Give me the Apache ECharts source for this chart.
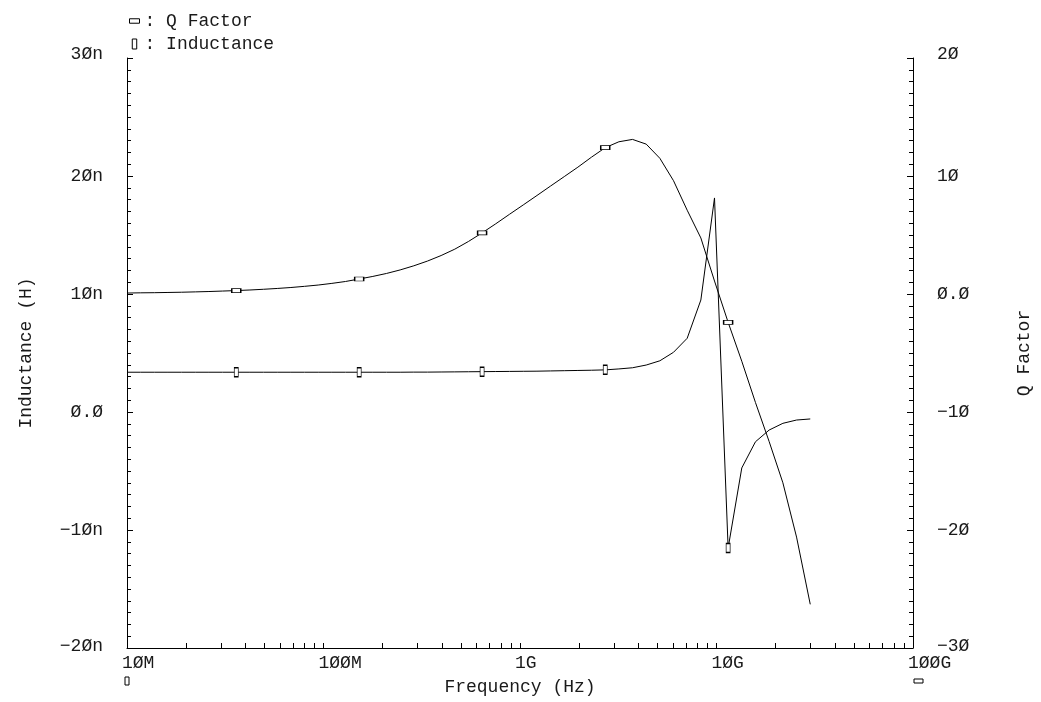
<!DOCTYPE html>
<html>
<head>
<meta charset="utf-8">
<script src="https://cdn.jsdelivr.net/npm/echarts@6/dist/echarts.min.js"></script>
<style>
  html, body { margin: 0; padding: 0; background: #fff; }
  #chart { width: 1041px; height: 702px; }
</style>
</head>
<body>
<div id="chart"></div>
<script>
// Sweep frequencies (Hz), log spaced from 10 MHz to 30 GHz
const frequencyHz = [
  1.000e7, 1.174e7, 1.377e7, 1.616e7, 1.897e7, 2.226e7, 2.612e7, 3.066e7, 3.598e7, 4.222e7,
  4.955e7, 5.815e7, 6.824e7, 8.008e7, 9.398e7, 1.103e8, 1.294e8, 1.519e8, 1.783e8, 2.092e8,
  2.455e8, 2.881e8, 3.381e8, 3.968e8, 4.657e8, 5.465e8, 6.414e8, 7.527e8, 8.834e8, 1.039e9,
  1.220e9, 1.431e9, 1.680e9, 1.971e9, 2.313e9, 2.715e9, 3.186e9, 3.739e9, 4.388e9, 5.150e9,
  6.044e9, 7.093e9, 8.324e9, 9.769e9, 1.146e10, 1.345e10, 1.579e10, 1.853e10, 2.177e10, 2.555e10,
  3.000e10
];

// Quality factor (right axis)
const qFactor = [
  0.08, 0.10, 0.11, 0.13, 0.15, 0.18, 0.21, 0.25, 0.29, 0.34,
  0.40, 0.47, 0.55, 0.65, 0.76, 0.90, 1.06, 1.27, 1.49, 1.74,
  2.04, 2.39, 2.79, 3.26, 3.80, 4.45, 5.18, 5.95, 6.75, 7.55,
  8.35, 9.15, 9.95, 10.75, 11.6, 12.4, 12.9, 13.1, 12.7, 11.5,
  9.6, 7.1, 4.75, 1.1, -2.4, -5.7, -9.2, -12.5, -16.0, -20.6,
  -26.3
];

// Inductance in nH (left axis)
const inductanceNH = [
  3.37, 3.37, 3.37, 3.37, 3.37, 3.37, 3.37, 3.37, 3.37, 3.37,
  3.37, 3.37, 3.37, 3.37, 3.37, 3.37, 3.37, 3.37, 3.37, 3.37,
  3.37, 3.38, 3.38, 3.39, 3.40, 3.41, 3.42, 3.43, 3.44, 3.45,
  3.46, 3.48, 3.50, 3.52, 3.54, 3.57, 3.65, 3.75, 3.98, 4.34,
  5.06, 6.25, 9.49, 18.14, -11.53, -4.74, -2.52, -1.53, -0.96, -0.68,
  -0.59
];

// Sweep points that carry a curve symbol
const markerIndex = [8, 17, 26, 35, 44];

// Frequency axis ticks (decades plus 2..9 sub-ticks) and decade labels
const freqTickValues = [
  1e7, 2e7, 3e7, 4e7, 5e7, 6e7, 7e7, 8e7, 9e7,
  1e8, 2e8, 3e8, 4e8, 5e8, 6e8, 7e8, 8e8, 9e8,
  1e9, 2e9, 3e9, 4e9, 5e9, 6e9, 7e9, 8e9, 9e9,
  1e10, 2e10, 3e10, 4e10, 5e10, 6e10, 7e10, 8e10, 9e10,
  1e11
];
const freqLabelValues = [1e7, 1e8, 1e9, 1e10, 1e11];
const freqLabelText = ['1ØM', '1ØØM', '1G', '1ØG', '1ØØG'];

const inductanceTicks = [-20, -10, 0, 10, 20, 30];
const inductanceTickText = ['−2Øn', '−1Øn', 'Ø.Ø', '1Øn', '2Øn', '3Øn'];
const qTicks = [-30, -20, -10, 0, 10, 20];
const qTickText = ['−3Ø', '−2Ø', '−1Ø', 'Ø.Ø', '1Ø', '2Ø'];

const FONT = 'Liberation Mono';
const INK = '#1a1a1a';
const GRID = { left: 127, right: 125, top: 58, bottom: 54 };
const W = 1041, H = 702;

// End labels of the value axes sit slightly above their ticks
function pickLabel(v, values, texts) {
  for (let i = 0; i < values.length; i++) {
    if (Math.abs(v - values[i]) < 1e-6) {
      if (i === values.length - 1) return '{hi|' + texts[i] + '}';
      if (i === 0) return '{lo|' + texts[i] + '}';
      return texts[i];
    }
  }
  return '';
}
function pickLogLabel(v, values, texts) {
  for (let i = 0; i < values.length; i++) {
    if (Math.abs(Math.log10(v) - Math.log10(values[i])) < 1e-6) return texts[i];
  }
  return '';
}

const textStyle = { fontFamily: FONT, fontSize: 18, color: INK };
const endRich = {
  hi: { fontFamily: FONT, fontSize: 18, color: INK, padding: [0, 0, 8, 0] },
  lo: { fontFamily: FONT, fontSize: 18, color: INK, padding: [0, 0, 4, 0] }
};
const hollow = { color: '#fff', borderColor: '#000', borderWidth: 1 };
const symbolFor = (value, params) => markerIndex.indexOf(params.dataIndex) >= 0 ? 'rect' : 'none';

const yAxisCommon = {
  type: 'value',
  interval: 10,
  nameLocation: 'middle',
  nameRotate: 90,
  nameTextStyle: textStyle,
  axisLine: { show: true, onZero: false, lineStyle: { color: '#000', width: 1 } },
  axisTick: { show: true, inside: true, length: 6, lineStyle: { color: '#000', width: 1 } },
  minorTick: { show: true, splitNumber: 10, length: 4, lineStyle: { color: '#000', width: 1 } },
  splitLine: { show: false },
  minorSplitLine: { show: false }
};

const chart = echarts.init(document.getElementById('chart'), null, { renderer: 'canvas' });
chart.setOption({
  animation: false,
  backgroundColor: '#fff',
  grid: GRID,
  legend: {
    orient: 'vertical',
    left: 124,
    top: 6,
    itemWidth: 10,
    itemHeight: 10,
    itemGap: 3,
    selectedMode: false,
    textStyle: Object.assign({ lineHeight: 20 }, textStyle),
    formatter: name => ': ' + name,
    data: [
      { name: 'Q Factor', icon: 'path://M0,0H9V4H0Z', itemStyle: hollow },
      { name: 'Inductance', icon: 'path://M0,0H4V9H0Z', itemStyle: hollow }
    ]
  },
  xAxis: {
    type: 'log',
    logBase: 10,
    min: 1e7,
    max: 1e11,
    name: 'Frequency (Hz)',
    nameLocation: 'middle',
    nameGap: 30,
    nameTextStyle: textStyle,
    axisLine: { show: true, onZero: false, lineStyle: { color: '#000', width: 1 } },
    axisTick: { show: true, inside: true, length: 5, customValues: freqTickValues, lineStyle: { color: '#000', width: 1 } },
    axisLabel: {
      customValues: freqLabelValues,
      align: 'left',
      padding: [0, 0, 0, -5],
      margin: 6,
      fontFamily: FONT, fontSize: 18, color: INK,
      formatter: v => pickLogLabel(v, freqLabelValues, freqLabelText)
    },
    splitLine: { show: false }
  },
  yAxis: [
    Object.assign({}, yAxisCommon, {
      position: 'left',
      min: -20, max: 30,
      name: 'Inductance (H)',
      nameGap: 92,
      axisLabel: {
        margin: 24, fontFamily: FONT, fontSize: 18, color: INK, rich: endRich,
        formatter: v => pickLabel(v, inductanceTicks, inductanceTickText)
      }
    }),
    Object.assign({}, yAxisCommon, {
      position: 'right',
      min: -30, max: 20,
      name: 'Q Factor',
      nameGap: 102,
      axisLabel: {
        margin: 24, fontFamily: FONT, fontSize: 18, color: INK, rich: endRich,
        formatter: v => pickLabel(v, qTicks, qTickText)
      }
    })
  ],
  series: [
    {
      name: 'Q Factor',
      type: 'line',
      yAxisIndex: 1,
      data: frequencyHz.map((f, i) => [f, qFactor[i]]),
      symbol: symbolFor,
      symbolSize: [9, 4],
      showAllSymbol: true,
      lineStyle: { color: '#000', width: 1 },
      itemStyle: hollow,
      emphasis: { disabled: true },
      z: 3
    },
    {
      name: 'Inductance',
      type: 'line',
      yAxisIndex: 0,
      data: frequencyHz.map((f, i) => [f, inductanceNH[i]]),
      symbol: symbolFor,
      symbolSize: [4, 9],
      showAllSymbol: true,
      lineStyle: { color: '#000', width: 1 },
      itemStyle: hollow,
      emphasis: { disabled: true },
      z: 3
    }
  ],
  graphic: [
    // axis keys under the frequency axis: inductance key at the left end, Q key at the right end
    { type: 'rect', shape: { x: GRID.left - 2, y: H - GRID.bottom + 29, width: 4, height: 8 }, style: { fill: '#fff', stroke: '#000', lineWidth: 1 } },
    { type: 'rect', shape: { x: W - GRID.right - 2, y: H - GRID.bottom + 31, width: 9, height: 4 }, style: { fill: '#fff', stroke: '#000', lineWidth: 1 } }
  ]
});
</script>
</body>
</html>
